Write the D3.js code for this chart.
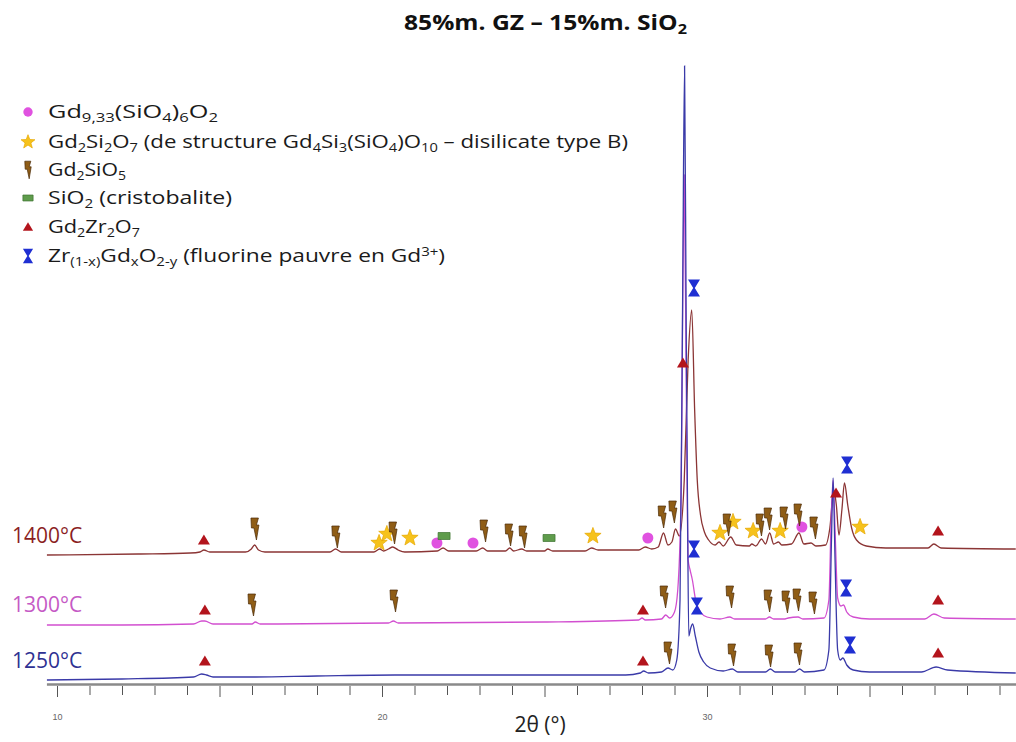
<!DOCTYPE html>
<html><head><meta charset="utf-8">
<script src="https://cdn.jsdelivr.net/npm/d3@7"></script>
<style>body{margin:0;background:#fff;} svg{display:block;}</style>
</head><body>
<svg id="chart" width="1016" height="742"></svg>
<script>
// ---- DATA: 2θ (°) vs intensity (a.u., stacked as displayed) ----
const scan1400 = [[9.69,129],[12.5,130],[14.1,131],[14.4,132],[14.52,134],[14.7,132],[15.8,132],[15.98,135],[16.08,139],[16.2,134],[16.4,132],
 [18.4,132],[18.57,135],[18.75,132],[19.75,132],[19.93,135],[20.05,133],[20.2,135],[20.33,137],[20.5,134],[20.7,132],[21.7,133],[21.88,136],[22.05,133],
 [22.9,133],[23.1,136],[23.25,133],[23.8,133],[23.93,136],[24.05,133],[24.3,135],[24.45,133],[25.0,133],[25.1,135],[25.25,133],[26.25,133],[26.45,136],[26.65,134],
 [27.9,134],[28.1,137],[28.3,135],[28.5,137],[28.66,151],[28.8,139],[28.92,142],[29.03,155],[29.15,148],[29.3,204],[29.42,324],[29.53,374],[29.62,274],[29.7,204],
 [29.8,169],[29.92,152],[30.05,144],[30.25,139],[30.37,142],[30.5,138],[30.73,147],[30.9,139],[31.3,138],[31.38,140],[31.5,138],[31.68,145],[31.8,140],[31.93,151],
 [32.05,140],[32.2,142],[32.3,139],[32.6,140],[32.83,151],[32.98,140],[33.2,141],[33.35,138],[33.65,139],[33.78,156],[33.9,194],[33.98,179],[34.06,149],[34.15,174],
 [34.23,201],[34.33,179],[34.45,156],[34.6,144],[34.9,138],[35.5,136],[36.8,136],[36.98,140],[37.2,136],[39.5,135]];
const scan1300 = [[9.69,59],[12.0,59],[14.2,60],[14.45,63],[14.55,63],[14.8,60],[16.0,60],[16.1,62],[16.25,60],[20.2,61],[20.35,63],[20.5,61],[25.0,62],
 [27.9,64],[28.0,66],[28.1,64],[28.6,65],[28.73,69],[28.85,66],[29.0,72],[29.1,94],[29.2,184],[29.3,509],[29.37,264],[29.42,124],[29.48,114],[29.55,104],
 [29.65,84],[29.8,72],[30.0,67],[30.4,65],[30.7,67],[30.85,65],[31.8,65],[31.92,67],[32.05,65],[32.4,65],[32.5,66],[32.8,67],[32.95,65],[33.6,66],[33.75,84],
 [33.82,164],[33.88,204],[33.95,144],[34.02,86],[34.12,78],[34.2,79],[34.3,72],[34.5,67],[35.0,65],[36.7,65],[36.98,70],[37.3,66],[39.5,65]];
const scan1250 = [[9.69,4],[12.0,5],[14.2,7],[14.45,10],[14.6,9],[14.8,7],[16.1,7],[18.0,8],[20.4,9],[25.0,9],[27.5,9],[27.95,11],[28.05,13],[28.2,11],
 [28.6,12],[28.8,16],[28.95,14],[29.07,24],[29.17,84],[29.25,384],[29.31,618],[29.36,354],[29.4,180],[29.44,48],[29.5,56],[29.56,60],[29.64,48],[29.75,32],
 [29.9,22],[30.1,16],[30.5,13],[30.78,15],[30.95,12],[31.8,12],[31.95,15],[32.1,12],[32.7,12],[32.85,15],[33.0,12],[33.6,14],[33.75,34],[33.83,144],[33.88,206],
 [33.94,124],[34.02,34],[34.1,24],[34.18,26],[34.3,19],[34.5,14],[35.0,12],[36.6,12],[37.05,17],[37.4,14],[39.5,11]];

// phase markers [2θ, intensity level]
const markGd933 = [[21.69,141],[22.8,141],[28.18,146],[32.92,157]];
const markGd2Si2O7 = [[19.91,141],[20.15,150],[20.86,146],[26.49,148],[30.4,151],[30.8,162],[31.42,153],[32.25,153],[34.71,157]];
const markGd2SiO5 = [[16.09,155],[18.58,147],[20.34,151],[23.14,153],[23.91,149],[24.34,147],[28.62,167],[28.95,172],[30.62,159],[31.63,159],[31.88,165],
 [32.37,166],[32.8,169],[33.29,156],[16.0,79],[20.37,83],[28.68,87],[30.71,87],[31.88,83],[32.43,82],[32.77,84],[33.26,81],[28.8,31],[30.77,29],[31.91,28],[32.8,30]];
const markSiO2 = [[21.91,148],[25.14,146]];
const markGd2Zr2O7 = [[14.52,144],[14.55,74],[14.55,23],[28.03,74],[28.03,23],[29.26,321],[33.97,191],[37.11,153],[37.11,84],[37.11,31]];
const markZrGd = [[29.6,396],[29.6,135],[29.69,78],[34.31,219],[34.28,96],[34.4,39]];

const sampleLabels = ["1400°C","1300°C","1250°C"];
const tickValues = d3.range(10,40);
const tickLabels = [10,20,30];

const legendLabels = [
 [["Gd",""],["9,33","sub"],["(SiO",""],["4","sub"],[")",""],["6","sub"],["O",""],["2","sub"]],
 [["Gd",""],["2","sub"],["Si",""],["2","sub"],["O",""],["7","sub"],[" (de structure Gd",""],["4","sub"],["Si",""],["3","sub"],["(SiO",""],["4","sub"],[")O",""],["10","sub"],[" – disilicate type B)",""]],
 [["Gd",""],["2","sub"],["SiO",""],["5","sub"]],
 [["SiO",""],["2","sub"],[" (cristobalite)",""]],
 [["Gd",""],["2","sub"],["Zr",""],["2","sub"],["O",""],["7","sub"]],
 [["Zr",""],["(1-x)","sub"],["Gd",""],["x","sub"],["O",""],["2-y","sub"],[" (fluorine pauvre en Gd",""],["3+","sup"],[")",""]]
];
const titleParts = [["85%m. GZ – 15%m. SiO",""],["2","sub"]];

// ---- DRAWING ----
const svg = d3.select("#chart");
const x = d3.scaleLinear().domain([10,39.5]).range([57, 57+29.5*32.5]);
const y = d3.scaleLinear().domain([0,684]).range([684,0]);

const symbols = {
  circle: s => { const r=5.5*s; return `M${-r},0a${r},${r} 0 1,0 ${2*r},0a${r},${r} 0 1,0 ${-2*r},0Z`; },
  star: s => { let p=""; for(let i=0;i<10;i++){const r=(i%2?3.6:8.6)*s, a=-Math.PI/2+i*Math.PI/5; p+=(i?"L":"M")+(r*Math.cos(a)).toFixed(2)+","+(r*Math.sin(a)).toFixed(2);} return p+"Z"; },
  bolt: s => `M${-4*s},${-11*s}L${3.5*s},${-11*s}L${1.5*s},${-4*s}L${4*s},${-4*s}L${1.5*s},${11*s}L${-1*s},${-1*s}L${-3.5*s},${-1*s}Z`,
  rect: s => `M${-6*s},${-3.5*s}h${12*s}v${7*s}h${-12*s}Z`,
  tri: s => `M0,${-5.5*s}L${6*s},${4.5*s}L${-6*s},${4.5*s}Z`,
  hour: s => `M${-6*s},${-8.5*s}L${6*s},${-8.5*s}L${0.8*s},0L${6*s},${8.5*s}L${-6*s},${8.5*s}L${-0.8*s},0Z`
};
const symStyle = {
  circle:{fill:"#e052e0",stroke:"none"},
  star:{fill:"#f6c21c",stroke:"#e6a800"},
  bolt:{fill:"#8f5d16",stroke:"#4b2a06"},
  rect:{fill:"#5f9c4c",stroke:"#3e7330"},
  tri:{fill:"#b3141c",stroke:"none"},
  hour:{fill:"#1f2fd2",stroke:"none"}
};

// axis
svg.append("line").attr("x1",x(9.69)).attr("x2",1016).attr("y1",684.5).attr("y2",684.5)
  .attr("stroke","#8a8a8a").attr("stroke-width",2.5);
const axis = d3.axisBottom(x).tickValues(tickValues).tickSize(9).tickPadding(19)
  .tickFormat(d => tickLabels.includes(d) ? d : "");
const gAx = svg.append("g").attr("transform","translate(0,686)").call(axis);
gAx.select(".domain").remove();
gAx.selectAll(".tick line").attr("stroke","#555").attr("y2", d => d%5===0 ? 11 : 9);
gAx.selectAll(".tick text").attr("font-family","Liberation Sans, Arial, sans-serif").attr("font-size",9).attr("fill","#666");

svg.append("text").attr("x",540).attr("y",732).attr("text-anchor","middle")
  .attr("font-family","Open Sans, sans-serif").attr("font-size",21).attr("fill","#222").text("2θ (°)");

// curves
const line = d3.line().x(d=>x(d[0])).y(d=>y(d[1])).curve(d3.curveMonotoneX);
const series = [[scan1400,"#8b3535"],[scan1300,"#d24fd0"],[scan1250,"#3a3aa8"]];
series.forEach(([data,col]) => {
  svg.append("path").datum(data).attr("d",line).attr("fill","none").attr("stroke",col).attr("stroke-width",1.3);
});

// sample labels
const labelCols = ["#8b1f1f","#c55ac5","#2e3192"];
const labelY = [543,612,668];
sampleLabels.forEach((t,i) => {
  svg.append("text").attr("x",12).attr("y",labelY[i]).attr("font-family","Open Sans, sans-serif")
    .attr("font-size",21).attr("fill",labelCols[i]).text(t);
});

// markers
const markerSets = [[markGd933,"circle"],[markGd2Si2O7,"star"],[markGd2SiO5,"bolt"],[markSiO2,"rect"],[markGd2Zr2O7,"tri"],[markZrGd,"hour"]];
markerSets.forEach(([data,sym]) => {
  svg.append("g").selectAll("path").data(data).join("path")
    .attr("transform", d => `translate(${x(d[0])},${y(d[1])})`)
    .attr("d", symbols[sym](1)).attr("fill",symStyle[sym].fill).attr("stroke",symStyle[sym].stroke).attr("stroke-width",0.7);
});

// rich text helper
function richText(g, parts, fs){
  let state = "";
  const off = v => v==="sub" ? 0.2*fs : v==="sup" ? -0.36*fs : 0;
  parts.forEach(([t,type]) => {
    const ts = g.append("tspan").text(t);
    const dy = off(type) - off(state);
    if (dy) ts.attr("dy", dy);
    if (type) ts.attr("font-size", fs*0.66);
    state = type;
  });
}

// legend
const legendY = [112,142,170,198,227,256];
const legendW = [170,580,78,184,92,397];
const legendSym = ["circle","star","bolt","rect","tri","hour"];
legendLabels.forEach((parts,i) => {
  svg.append("path").attr("transform",`translate(28,${legendY[i]})`).attr("d",symbols[legendSym[i]](legendSym[i]==="bolt"?0.8:0.85))
    .attr("fill",symStyle[legendSym[i]].fill).attr("stroke",symStyle[legendSym[i]].stroke).attr("stroke-width",0.7);
  const t = svg.append("text").attr("x",48).attr("y",legendY[i]+6).attr("font-family","Open Sans, sans-serif")
    .attr("font-size",18).attr("fill","#1a1a1a");
  richText(t, parts, 18);
  t.attr("textLength",legendW[i]).attr("lengthAdjust","spacingAndGlyphs");
});

// title
const tt = svg.append("text").attr("x",404).attr("y",30).attr("font-family","Open Sans, sans-serif")
  .attr("font-weight","bold").attr("font-size",21).attr("fill","#111");
richText(tt, titleParts, 21);
tt.attr("textLength",283).attr("lengthAdjust","spacingAndGlyphs");
</script>
</body></html>
